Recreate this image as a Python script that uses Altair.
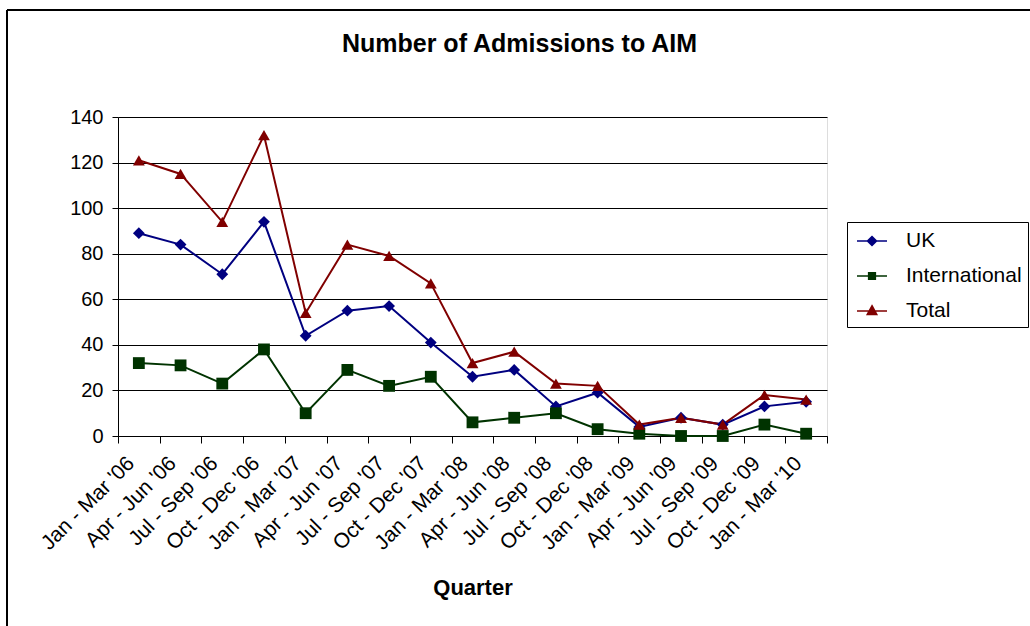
import altair as alt
import pandas as pd

quarters = ["Jan - Mar '06", "Apr - Jun '06", "Jul - Sep '06", "Oct - Dec '06",
            "Jan - Mar '07", "Apr - Jun '07", "Jul - Sep '07", "Oct - Dec '07",
            "Jan - Mar '08", "Apr - Jun '08", "Jul - Sep '08", "Oct - Dec '08",
            "Jan - Mar '09", "Apr - Jun '09", "Jul - Sep '09", "Oct - Dec '09",
            "Jan - Mar '10"]
uk = [89, 84, 71, 94, 44, 55, 57, 41, 26, 29, 13, 19, 4, 8, 5, 13, 15]
international = [32, 31, 23, 38, 10, 29, 22, 26, 6, 8, 10, 3, 1, 0, 0, 5, 1]
total = [121, 115, 94, 132, 54, 84, 79, 67, 32, 37, 23, 22, 5, 8, 5, 18, 16]

series_names = ["UK", "International", "Total"]
series_colors = ["#000080", "#003300", "#800000"]
marker_shapes = ["diamond", "square", "triangle-up"]
y_ticks = [0, 20, 40, 60, 80, 100, 120, 140]


def _poly(points):
    return "M" + "L".join("%.3f,%.3f" % p for p in points) + "Z"


def legend_path(kind):
    # a horizontal line segment with a filled marker in its middle
    # (the marker is filled by nesting outlines, since legend symbols are stroked)
    out = "M-1.25,0H1.25"
    for k in [1.0, 0.75, 0.5, 0.25, 0.05]:
        if kind == "diamond":
            r = 0.38 * k
            out += _poly([(0, -r), (r, 0), (0, r), (-r, 0)])
        elif kind == "square":
            s = 0.28 * k
            out += _poly([(-s, -s), (s, -s), (s, s), (-s, s)])
        else:
            cy = 0.05
            out += _poly([(0, cy + (-0.44 - cy) * k), (0.4 * k, cy + (0.3 - cy) * k),
                          (-0.4 * k, cy + (0.3 - cy) * k)])
    return out


legend_shapes = [legend_path(s) for s in ["diamond", "square", "triangle"]]

rows = []
for name, vals in zip(series_names, [uk, international, total]):
    for q, v in zip(quarters, vals):
        rows.append({"Quarter": q, "Series": name, "Value": v})
df = pd.DataFrame(rows)

FONT = "Liberation Sans"
W, H = 709, 319
PAD_L, PAD_T = 118, 117

x_enc = alt.X(
    "Quarter:N",
    sort=quarters,
    bandPosition=0.5,
    scale=alt.Scale(type="band", paddingInner=0, paddingOuter=0),
    axis=alt.Axis(
        title="Quarter", titleFont=FONT, titleFontSize=22, titleFontWeight="bold",
        titleColor="black", titlePadding=24,
        labelAngle=-45, labelAlign="right", labelBaseline="middle",
        labelFont=FONT, labelFontSize=21, labelColor="black",
        labelPadding=17, labelOffset=-8,
        tickBand="extent", tickSize=7, tickColor="black",
        domainColor="black", grid=False,
    ),
)
y_enc = alt.Y(
    "Value:Q",
    scale=alt.Scale(domain=[0, 140], nice=False),
    axis=alt.Axis(
        title=None, values=y_ticks, labelFont=FONT, labelFontSize=20,
        labelColor="black", labelPadding=9, tickSize=6, tickColor="black",
        domainColor="black", gridColor="black", gridWidth=1, gridOpacity=1,
    ),
)
color_scale = alt.Scale(domain=series_names, range=series_colors)

base = alt.Chart(df)

lines = base.mark_line(strokeWidth=2).encode(
    x=x_enc, y=y_enc,
    color=alt.Color("Series:N", scale=color_scale, legend=None),
)

markers = base.mark_point(filled=True, size=140, opacity=1, strokeWidth=0).encode(
    x=x_enc, y=y_enc,
    color=alt.Color("Series:N", scale=color_scale, legend=None),
    shape=alt.Shape("Series:N", scale=alt.Scale(domain=series_names, range=marker_shapes), legend=None),
)

legend_props = dict(
    title=None, orient="none", legendX=729, legendY=105,
    strokeColor="black", fillColor="white", padding=6,
    symbolSize=576, symbolStrokeWidth=1.5, symbolOpacity=1,
    symbolOffset=6, labelOffset=21,
    labelFont=FONT, labelFontSize=21, labelColor="black",
    rowPadding=12, cornerRadius=0,
)

legend_layer = base.mark_point(filled=True, opacity=0).encode(
    x=x_enc, y=y_enc,
    fill=alt.Fill("Series:N", scale=alt.Scale(domain=series_names, range=series_colors),
                  legend=alt.Legend(**legend_props)),
    stroke=alt.Stroke("Series:N", scale=alt.Scale(domain=series_names, range=series_colors),
                      legend=alt.Legend(**legend_props)),
    shape=alt.Shape("Series:N", scale=alt.Scale(domain=series_names, range=legend_shapes),
                    legend=alt.Legend(**legend_props)),
)

frame_df = pd.DataFrame({"k": [0]})
frame_top = alt.Chart(frame_df).mark_rule(color="black", strokeWidth=2).encode(
    x=alt.value(-PAD_L + 7), x2=alt.value(1030 - PAD_L), y=alt.value(-PAD_T + 10)
)
frame_left = alt.Chart(frame_df).mark_rule(color="black", strokeWidth=2).encode(
    x=alt.value(-PAD_L + 7), y=alt.value(-PAD_T + 10), y2=alt.value(626 - PAD_T)
)

chart = alt.layer(lines, markers, legend_layer, frame_top, frame_left).resolve_scale(
    shape="independent", fill="independent", stroke="independent"
).properties(
    width=W, height=H,
    title=alt.Title("Number of Admissions to AIM", font=FONT, fontSize=25,
                    fontWeight="bold", color="black", anchor="middle",
                    dx=47, dy=48, offset=0),
    autosize=alt.AutoSizeParams(type="none"),
    padding={"left": PAD_L, "top": PAD_T, "right": 1030 - PAD_L - W, "bottom": 626 - PAD_T - H},
).configure_view(
    fill="#C0C0C0", stroke="#808080", strokeWidth=1
).configure(background="white")

chart.save("out.html", embed_options={"renderer": "svg", "actions": False})
